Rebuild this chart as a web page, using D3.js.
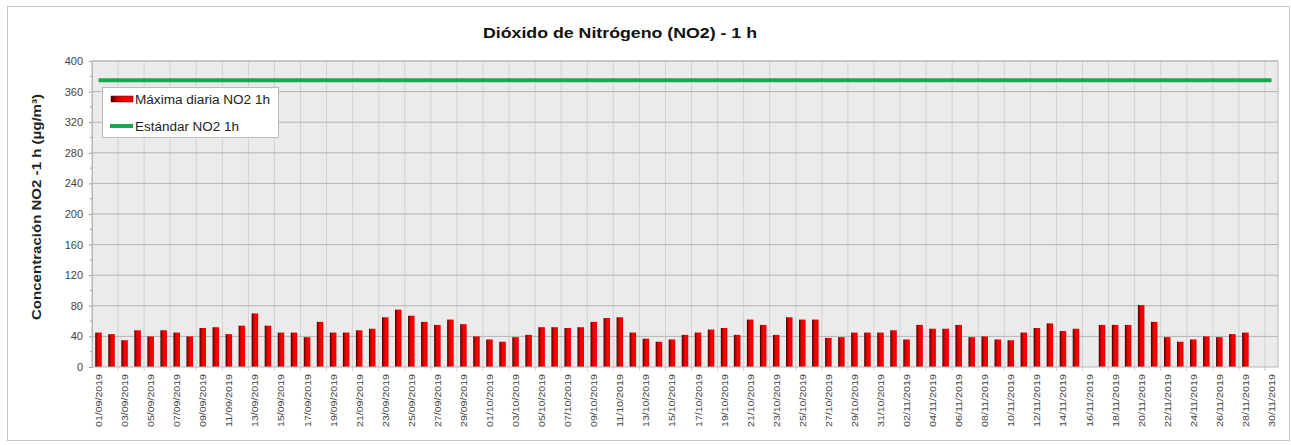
<!DOCTYPE html>
<html>
<head>
<meta charset="utf-8">
<script src="https://cdn.jsdelivr.net/npm/d3@7"></script>
<style>
  body { margin: 0; background: #fff; }
  text { font-family: "Liberation Sans", Arial, sans-serif; }
</style>
</head>
<body>
<div id="chart"></div>
<script>
const FRAME_WIDTH = 1291;
const FRAME_HEIGHT = 445;
const MARGINS = { left: 92, right: 13, top: 61, bottom: 78 };

// days, 01/09/2019 - 30/11/2019
const dates = [
  "01/09/2019","02/09/2019","03/09/2019","04/09/2019","05/09/2019","06/09/2019","07/09/2019","08/09/2019","09/09/2019","10/09/2019",
  "11/09/2019","12/09/2019","13/09/2019","14/09/2019","15/09/2019","16/09/2019","17/09/2019","18/09/2019","19/09/2019","20/09/2019",
  "21/09/2019","22/09/2019","23/09/2019","24/09/2019","25/09/2019","26/09/2019","27/09/2019","28/09/2019","29/09/2019","30/09/2019",
  "01/10/2019","02/10/2019","03/10/2019","04/10/2019","05/10/2019","06/10/2019","07/10/2019","08/10/2019","09/10/2019","10/10/2019",
  "11/10/2019","12/10/2019","13/10/2019","14/10/2019","15/10/2019","16/10/2019","17/10/2019","18/10/2019","19/10/2019","20/10/2019",
  "21/10/2019","22/10/2019","23/10/2019","24/10/2019","25/10/2019","26/10/2019","27/10/2019","28/10/2019","29/10/2019","30/10/2019",
  "31/10/2019","01/11/2019","02/11/2019","03/11/2019","04/11/2019","05/11/2019","06/11/2019","07/11/2019","08/11/2019","09/11/2019",
  "10/11/2019","11/11/2019","12/11/2019","13/11/2019","14/11/2019","15/11/2019","16/11/2019","17/11/2019","18/11/2019","19/11/2019",
  "20/11/2019","21/11/2019","22/11/2019","23/11/2019","24/11/2019","25/11/2019","26/11/2019","27/11/2019","28/11/2019","29/11/2019",
  "30/11/2019"
];

// daily max NO2 1h (ug/m3)
const maxDaily = [
  45, 43, 35, 48, 40, 48, 45, 40, 51, 52,
  43, 54, 70, 54, 45, 45, 39, 59, 45, 45,
  48, 50, 65, 75, 67, 59, 55, 62, 56, 40,
  36, 33, 39, 42, 52, 52, 51, 52, 59, 64,
  65, 45, 37, 33, 36, 42, 45, 49, 51, 42,
  62, 55, 42, 65, 62, 62, 38, 39, 45, 45,
  45, 48, 36, 55, 50, 50, 55, 39, 40, 36,
  35, 45, 51, 57, 47, 50, null, 55, 55, 55,
  81, 59, 39, 33, 36, 40, 39, 43, 45, null,
  null
];

const STANDARD = 375;
const yTicks = [0, 40, 80, 120, 160, 200, 240, 280, 320, 360, 400];

const TITLE = "Dióxido de Nitrógeno (NO2) - 1 h";
const Y_TITLE = "Concentración  NO2 -1 h (µg/m³)";
const LEGEND = ["Máxima diaria NO2 1h", "Estándar NO2 1h"];
const LEGEND_LEN = [135, 104];

const VIS_WIDTH = FRAME_WIDTH - MARGINS.left - MARGINS.right;
const VIS_HEIGHT = FRAME_HEIGHT - MARGINS.top - MARGINS.bottom;

const svg = d3.select("#chart")
  .append("svg")
  .attr("width", FRAME_WIDTH)
  .attr("height", FRAME_HEIGHT);

// bar gradient (dark left edge)
const grad = svg.append("defs").append("linearGradient")
  .attr("id", "barGrad")
  .attr("x1", "0%").attr("x2", "100%");
grad.append("stop").attr("offset", "0%").attr("stop-color", "#300000");
grad.append("stop").attr("offset", "22%").attr("stop-color", "#b00000");
grad.append("stop").attr("offset", "55%").attr("stop-color", "#ff0000");
grad.append("stop").attr("offset", "100%").attr("stop-color", "#e80000");

// outer frame
svg.append("rect")
  .attr("x", 7.5).attr("y", 6.5)
  .attr("width", 1282).attr("height", 434)
  .attr("fill", "#fff")
  .attr("stroke", "#c8c8c8");

const X_SCALE = d3.scaleBand()
  .domain(dates)
  .range([0, VIS_WIDTH])
  .paddingInner(0.5)
  .paddingOuter(0.25);

const Y_SCALE = d3.scaleLinear()
  .domain([0, 400])
  .range([VIS_HEIGHT, 0]);

const plot = svg.append("g")
  .attr("transform", "translate(" + MARGINS.left + "," + MARGINS.top + ")");

plot.append("rect")
  .attr("width", VIS_WIDTH)
  .attr("height", VIS_HEIGHT)
  .attr("fill", "#ebebeb");

// vertical grid, every 2 days at category boundaries
const step = X_SCALE.step();
const boundaries = dates.filter((d, i) => i % 2 === 0 && i > 0);
plot.selectAll(".vgrid")
  .data(boundaries)
  .enter()
  .append("line")
  .attr("x1", d => X_SCALE(d) + X_SCALE.bandwidth() / 2 - step / 2)
  .attr("x2", d => X_SCALE(d) + X_SCALE.bandwidth() / 2 - step / 2)
  .attr("y1", 0).attr("y2", VIS_HEIGHT + 4)
  .attr("stroke", "#d2d2d2");

// horizontal grid
plot.selectAll(".hgrid")
  .data(yTicks.slice(1))
  .enter()
  .append("line")
  .attr("x1", 0).attr("x2", VIS_WIDTH)
  .attr("y1", d => Y_SCALE(d)).attr("y2", d => Y_SCALE(d))
  .attr("stroke", "#b4b4b4");

// y axis
const yAxis = plot.append("g")
  .call(d3.axisLeft(Y_SCALE).tickValues(yTicks).tickSize(3).tickPadding(6));
yAxis.select(".domain").attr("stroke", "#bbb");
yAxis.selectAll(".tick line").attr("stroke", "#999");
yAxis.selectAll(".tick text")
  .attr("fill", "#444")
  .attr("font-size", "11px")
  .attr("font-family", "Liberation Sans, Arial, sans-serif");

// minor ticks
plot.selectAll(".minor")
  .data(d3.range(20, 400, 40))
  .enter()
  .append("line")
  .attr("x1", -2).attr("x2", 0)
  .attr("y1", d => Y_SCALE(d)).attr("y2", d => Y_SCALE(d))
  .attr("stroke", "#999");

// bars
plot.selectAll(".bar")
  .data(dates.map((d, i) => ({ date: d, value: maxDaily[i] })).filter(d => d.value !== null))
  .enter()
  .append("rect")
  .attr("x", d => X_SCALE(d.date))
  .attr("y", d => Y_SCALE(d.value))
  .attr("width", X_SCALE.bandwidth())
  .attr("height", d => VIS_HEIGHT - Y_SCALE(d.value))
  .attr("fill", "url(#barGrad)");

// standard line
const line = d3.line()
  .x(d => X_SCALE(d) + X_SCALE.bandwidth() / 2)
  .y(() => Y_SCALE(STANDARD));
plot.append("path")
  .datum(dates)
  .attr("d", line)
  .attr("fill", "none")
  .attr("stroke", "#1aa84e")
  .attr("stroke-width", 4);

// plot frame
plot.append("rect")
  .attr("width", VIS_WIDTH)
  .attr("height", VIS_HEIGHT)
  .attr("fill", "none")
  .attr("stroke", "#b8b8b8");

// x axis labels
plot.selectAll(".xlab")
  .data(dates.filter((d, i) => i % 2 === 0))
  .enter()
  .append("text")
  .attr("transform", d => "translate(" + (X_SCALE(d) + X_SCALE.bandwidth() / 2 + 3.5) + "," + (VIS_HEIGHT + 7) + ") rotate(-90)")
  .attr("text-anchor", "end")
  .attr("font-size", "9.5px")
  .attr("textLength", 53)
  .attr("lengthAdjust", "spacingAndGlyphs")
  .attr("fill", "#444")
  .text(d => d);

// title
svg.append("text")
  .attr("x", 620)
  .attr("y", 38)
  .attr("text-anchor", "middle")
  .attr("font-size", "15px")
  .attr("font-weight", "bold")
  .attr("textLength", 274)
  .attr("lengthAdjust", "spacingAndGlyphs")
  .attr("fill", "#111")
  .text(TITLE);

// y title
svg.append("text")
  .attr("transform", "translate(41,207) rotate(-90)")
  .attr("text-anchor", "middle")
  .attr("font-size", "13.5px")
  .attr("font-weight", "bold")
  .attr("textLength", 226)
  .attr("lengthAdjust", "spacingAndGlyphs")
  .attr("fill", "#222")
  .text(Y_TITLE);

// legend
const legend = svg.append("g");
legend.append("rect")
  .attr("x", 102.5).attr("y", 87.5)
  .attr("width", 176).attr("height", 50)
  .attr("fill", "#fff")
  .attr("stroke", "#bbb");
legend.append("rect")
  .attr("x", 111).attr("y", 96)
  .attr("width", 22).attr("height", 6)
  .attr("fill", "url(#barGrad)")
  .attr("stroke", "#600")
  .attr("stroke-width", 0.5);
legend.append("line")
  .attr("x1", 110).attr("x2", 133)
  .attr("y1", 126).attr("y2", 126)
  .attr("stroke", "#1aa84e")
  .attr("stroke-width", 4);
legend.selectAll(".ltext")
  .data(LEGEND)
  .enter()
  .append("text")
  .attr("x", 135)
  .attr("y", (d, i) => 104 + i * 27)
  .attr("font-size", "12.5px")
  .attr("textLength", (d, i) => LEGEND_LEN[i])
  .attr("lengthAdjust", "spacingAndGlyphs")
  .attr("fill", "#222")
  .text(d => d);
</script>
</body>
</html>
